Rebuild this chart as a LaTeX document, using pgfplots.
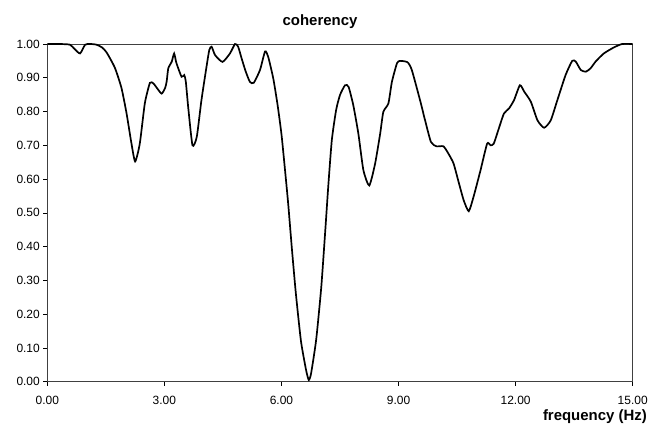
\documentclass[border=0pt]{standalone}
\usepackage{fontspec}
\setmainfont{Liberation Sans}
\usepackage{pgfplots}
\pgfplotsset{compat=1.18}
\begin{document}
\begin{tikzpicture}
\begin{axis}[
  scale only axis,
  width=585.4bp, height=337.7bp,
  xmin=0, xmax=15, ymin=0, ymax=1,
  xtick={0,3,6,9,12,15},
  ytick={0,0.1,0.2,0.3,0.4,0.5,0.6,0.7,0.8,0.9,1},
  xtick pos=bottom, ytick pos=left,
  tick align=outside,
  major tick length=4bp,
  tick style={black, line width=0.6bp},
  axis line style={draw=black!75, line width=0.9bp},
  /pgf/number format/assume math mode=true,
  /pgf/number format/.cd, fixed, fixed zerofill, precision=2, /tikz/.cd,
  tick label style={font=\fontsize{12}{12}\selectfont},
  xticklabel style={yshift=-7bp},
  clip=true,
]
\addplot[black, line width=1.7bp, smooth, tension=0.35] coordinates {
(0.00,1.000) (0.30,1.000) (0.58,0.998) (0.70,0.985) (0.84,0.972) (0.97,0.998)
(1.10,1.000) (1.26,0.998) (1.40,0.990) (1.52,0.975) (1.73,0.930) (1.90,0.870)
(2.03,0.795) (2.15,0.710) (2.25,0.652) (2.37,0.705) (2.50,0.825) (2.63,0.885)
(2.72,0.883) (2.82,0.868) (2.93,0.853) (3.02,0.870) (3.06,0.890) (3.10,0.928)
(3.19,0.948) (3.25,0.972) (3.31,0.943) (3.44,0.903) (3.51,0.908) (3.55,0.888)
(3.61,0.813) (3.72,0.700) (3.83,0.725) (3.95,0.834) (4.08,0.933) (4.15,0.982)
(4.21,0.992) (4.30,0.967) (4.49,0.947) (4.68,0.972) (4.81,1.000) (4.89,0.992)
(4.98,0.957) (5.08,0.920) (5.19,0.888) (5.29,0.885) (5.45,0.923) (5.58,0.978)
(5.66,0.962) (5.79,0.898) (5.90,0.820) (6.00,0.733) (6.08,0.640) (6.17,0.530)
(6.27,0.390) (6.37,0.260) (6.50,0.120) (6.63,0.035) (6.70,0.005) (6.76,0.025)
(6.89,0.125) (7.02,0.280) (7.13,0.460) (7.20,0.580) (7.29,0.715) (7.40,0.804)
(7.50,0.849) (7.63,0.878) (7.72,0.873) (7.84,0.819) (7.97,0.735) (8.10,0.626)
(8.25,0.581) (8.40,0.646) (8.53,0.735) (8.61,0.799) (8.74,0.824) (8.83,0.888)
(8.96,0.943) (9.04,0.950) (9.23,0.946) (9.34,0.923) (9.55,0.834) (9.68,0.774)
(9.83,0.710) (9.97,0.697) (10.15,0.697) (10.28,0.675) (10.41,0.646) (10.54,0.591)
(10.67,0.537) (10.80,0.505) (10.93,0.551) (11.10,0.626) (11.27,0.705) (11.36,0.700)
(11.44,0.705) (11.57,0.750) (11.70,0.794) (11.83,0.809) (11.96,0.834) (12.11,0.878)
(12.22,0.859) (12.39,0.829) (12.56,0.774) (12.73,0.752) (12.90,0.774) (13.07,0.834)
(13.28,0.908) (13.45,0.950) (13.54,0.948) (13.67,0.923) (13.80,0.918) (13.92,0.928)
(14.05,0.948) (14.26,0.972) (14.52,0.990) (14.73,1.000) (15.00,1.000)
};
\end{axis}
% title and axis caption
\node[anchor=base, font=\bfseries\fontsize{15}{15}\selectfont]
  at ([shift={(272.7bp,355.7bp)}]current axis.south west) {coherency};
\node[anchor=base east, inner sep=0pt, font=\bfseries\fontsize{15}{15}\selectfont]
  at ([shift={(599.7bp,-38.3bp)}]current axis.south west) {frequency (Hz)};
% page frame
\pgfresetboundingbox
\path ([shift={(-47.3bp,-45.3bp)}]current axis.south west) rectangle ++(651bp,427bp);
\end{tikzpicture}
\end{document}
